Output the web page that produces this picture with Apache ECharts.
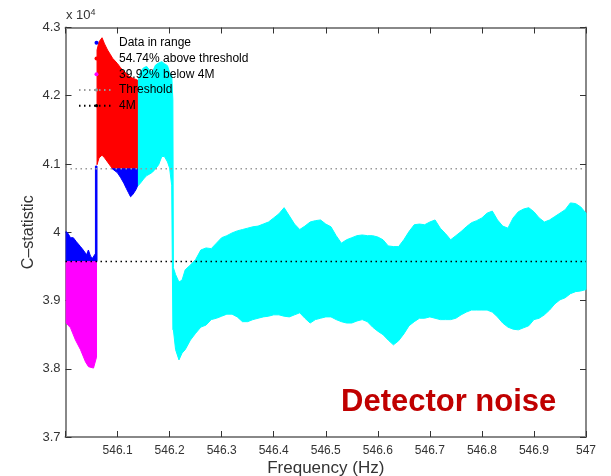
<!DOCTYPE html>
<html>
<head>
<meta charset="utf-8">
<script src="https://cdn.jsdelivr.net/npm/echarts@6/dist/echarts.min.js"></script>
<style>
  html, body { margin: 0; padding: 0; background: #fff; }
  #chart { width: 611px; height: 476px; }
</style>
</head>
<body>
<div id="chart"></div>
<script>
// y values are in units of 10^4

// thresholds
const thresholdLevel = 4.093
const fourMLevel = 3.957

// magenta: below 4M
const magentaFreq = [546.0013, 546.0096, 546.0192, 546.0288, 546.0385, 546.0442, 546.0538, 546.0596]
const magentaLow = [3.867, 3.860, 3.842, 3.828, 3.810, 3.803, 3.801, 3.817]
const magentaHigh = [3.957, 3.957, 3.957, 3.957, 3.957, 3.957, 3.957, 3.957]

// blue: data in range (left part, above 4M)
const blueLeftFreq = [546.0013, 546.005, 546.0096, 546.015, 546.021, 546.0288, 546.034, 546.0405, 546.044, 546.048, 546.052, 546.056, 546.0596]
const blueLeftLow = [3.957, 3.957, 3.957, 3.957, 3.957, 3.957, 3.957, 3.957, 3.957, 3.957, 3.957, 3.957, 3.957]
const blueLeftHigh = [4.001, 3.998, 3.992, 3.992, 3.986, 3.979, 3.974, 3.967, 3.974, 3.965, 3.962, 3.967, 3.971]

// blue: the jump
const blueJumpFreq = [546.0575, 546.0605]
const blueJumpLow = [3.957, 3.957]
const blueJumpHigh = [4.097, 4.097]

// blue: below threshold in the red part
const blueMidFreq = [546.090, 546.100, 546.106, 546.112, 546.117, 546.121, 546.125, 546.129, 546.135, 546.138]
const blueMidLow = [4.093, 4.087, 4.080, 4.072, 4.064, 4.058, 4.052, 4.055, 4.062, 4.067]
const blueMidHigh = [4.093, 4.093, 4.093, 4.093, 4.093, 4.093, 4.093, 4.093, 4.093, 4.093]

// red: above threshold
const redFreq = [546.0606, 546.0644, 546.0702, 546.075, 546.0808, 546.0865, 546.0904, 546.100, 546.1058, 546.1135, 546.1212, 546.1288, 546.138]
const redLow = [4.099, 4.109, 4.113, 4.109, 4.103, 4.097, 4.093, 4.093, 4.093, 4.093, 4.093, 4.093, 4.093]
const redHigh = [4.267, 4.279, 4.285, 4.276, 4.267, 4.260, 4.255, 4.247, 4.241, 4.235, 4.229, 4.226, 4.223]

// cyan: all data
const cyanFreq = [
  546.138, 546.144, 546.150, 546.156, 546.161, 546.167, 546.173, 546.179, 546.185, 546.190,
  546.196, 546.200, 546.204, 546.2063, 546.2073, 546.2115, 546.218, 546.224,
  546.23, 546.24, 546.25, 546.26, 546.27, 546.28, 546.29, 546.30, 546.31, 546.32,
  546.33, 546.34, 546.35, 546.36, 546.37, 546.38, 546.39, 546.40, 546.41, 546.42,
  546.43, 546.44, 546.45, 546.46, 546.47, 546.48, 546.49, 546.50, 546.51, 546.52,
  546.53, 546.54, 546.55, 546.56, 546.57, 546.58, 546.59, 546.60, 546.61, 546.62,
  546.63, 546.64, 546.65, 546.66, 546.67, 546.68, 546.69, 546.70, 546.71, 546.72,
  546.73, 546.74, 546.75, 546.76, 546.77, 546.78, 546.79, 546.80, 546.81, 546.82,
  546.83, 546.84, 546.85, 546.86, 546.87, 546.88, 546.89, 546.90, 546.91, 546.92,
  546.93, 546.94, 546.95, 546.96, 546.97, 546.98, 546.99, 547.00
]
const cyanHigh = [
  4.219, 4.235, 4.241, 4.243, 4.238, 4.235, 4.245, 4.248, 4.250, 4.247,
  4.244, 4.234, 4.231, 4.194, 3.948, 3.938, 3.927, 3.930,
  3.945, 3.952, 3.960, 3.974, 3.977, 3.976, 3.984, 3.992, 3.995, 3.999,
  4.002, 4.004, 4.006, 4.008, 4.009, 4.012, 4.015, 4.021, 4.027, 4.036,
  4.024, 4.012, 4.004, 4.009, 4.015, 4.017, 4.018, 4.012, 4.008, 3.995,
  3.984, 3.989, 3.992, 3.995, 3.996, 3.995, 3.995, 3.993, 3.989, 3.980,
  3.979, 3.979, 3.989, 4.001, 4.011, 4.012, 4.011, 4.015, 4.018, 4.006,
  3.998, 3.989, 3.995, 4.001, 4.008, 4.014, 4.017, 4.021, 4.028, 4.031,
  4.018, 4.009, 4.006, 4.021, 4.030, 4.034, 4.036, 4.030, 4.021, 4.015,
  4.018, 4.023, 4.028, 4.033, 4.043, 4.042, 4.037, 4.028
]
const cyanLow = [
  4.067, 4.072, 4.078, 4.083, 4.085, 4.088, 4.093, 4.099, 4.111, 4.111,
  4.103, 4.094, 4.069, 3.857, 3.857, 3.828, 3.813, 3.823,
  3.828, 3.842, 3.852, 3.861, 3.864, 3.872, 3.874, 3.877, 3.880, 3.880,
  3.876, 3.869, 3.869, 3.872, 3.874, 3.876, 3.877, 3.879, 3.879, 3.877,
  3.876, 3.879, 3.882, 3.874, 3.867, 3.872, 3.874, 3.876, 3.876, 3.872,
  3.869, 3.867, 3.867, 3.870, 3.872, 3.869, 3.861, 3.855, 3.850, 3.842,
  3.835, 3.841, 3.851, 3.863, 3.869, 3.874, 3.874, 3.876, 3.874, 3.872,
  3.872, 3.872, 3.874, 3.879, 3.883, 3.886, 3.886, 3.886, 3.886, 3.883,
  3.876, 3.867, 3.861, 3.858, 3.857, 3.860, 3.863, 3.872, 3.874, 3.879,
  3.886, 3.895, 3.901, 3.904, 3.910, 3.913, 3.914, 3.916
]

const legendNames = ['Data in range', '54.74% above threshold', '39.92% below 4M', 'Threshold', '4M']

const font = 'Liberation Sans, Arial, Helvetica, sans-serif'
const frameColor = '#888'
const tickColor = '#333'

/**
 * filled band between low and high, drawn as one polygon
 */
const band = (name, color, freq, low, high, z) => ({
  type: 'custom',
  name,
  z,
  silent: true,
  itemStyle: { color },
  data: freq.map((f, i) => [f, low[i], high[i]]),
  encode: { x: 0, y: [1, 2] },
  renderItem: (params, api) => {
    if (params.dataIndex !== 0) return
    const pts = []
    for (let i = 0; i < freq.length; i++) pts.push(api.coord([freq[i], high[i]]))
    for (let i = freq.length - 1; i >= 0; i--) pts.push(api.coord([freq[i], low[i]]))
    return {
      type: 'polygon',
      shape: { points: pts },
      style: { fill: color, stroke: color, lineWidth: 1 }
    }
  }
})

const hLine = (name, color, level) => ({
  type: 'line',
  name,
  z: 5,
  silent: true,
  symbol: 'none',
  showSymbol: false,
  color,
  lineStyle: { color, width: 1.5, type: [1.5, 3.5] },
  data: [[546, level], [547, level]]
})

const chart = echarts.init(document.getElementById('chart'))

const options = {
  backgroundColor: '#fff',
  animation: false,
  textStyle: { fontFamily: font },
  grid: { left: 65.5, right: 25, top: 27.5, bottom: 39, outerBoundsMode: 'none', containLabel: false },
  legend: {
    data: [
      { name: legendNames[0], icon: 'circle' },
      { name: legendNames[1], icon: 'circle' },
      { name: legendNames[2], icon: 'circle' },
      { name: legendNames[3] },
      { name: legendNames[4] }
    ],
    orient: 'vertical',
    left: 78,
    top: 35,
    padding: 0,
    itemWidth: 35,
    itemHeight: 4,
    itemGap: 0,
    selectedMode: false,
    textStyle: { fontSize: 12, color: '#000', fontFamily: font, lineHeight: 15.7 }
  },
  xAxis: [
    {
      type: 'value',
      position: 'bottom',
      min: 546,
      max: 547,
      interval: 0.1,
      name: 'Frequency (Hz)',
      nameLocation: 'middle',
      nameGap: 23,
      nameMoveOverlap: false,
      nameTextStyle: { fontSize: 17, color: '#333', fontFamily: font },
      axisLine: { show: true, lineStyle: { color: frameColor, width: 2 } },
      axisTick: { show: true, inside: true, length: 6, lineStyle: { color: tickColor } },
      axisLabel: {
        color: '#333',
        fontSize: 12,
        margin: 8,
        formatter: v => (Math.abs(v - 546) < 1e-6 ? '' : String(+v.toFixed(1)))
      },
      splitLine: { show: false }
    },
    {
      type: 'value',
      position: 'top',
      min: 546,
      max: 547,
      interval: 0.1,
      axisLine: { show: true, lineStyle: { color: frameColor, width: 2 } },
      axisTick: { show: true, inside: true, length: 6, lineStyle: { color: tickColor } },
      axisLabel: { show: false },
      splitLine: { show: false }
    }
  ],
  yAxis: [
    {
      type: 'value',
      position: 'left',
      min: 3.7,
      max: 4.3,
      interval: 0.1,
      name: 'C\u2013statistic',
      nameLocation: 'middle',
      nameGap: 29,
      nameMoveOverlap: false,
      nameTextStyle: { fontSize: 16, color: '#333', fontFamily: font },
      axisLine: { show: true, lineStyle: { color: frameColor, width: 2 } },
      axisTick: { show: true, inside: true, length: 6, lineStyle: { color: tickColor } },
      axisLabel: {
        color: '#333',
        fontSize: 13,
        margin: 5,
        formatter: v => String(+v.toFixed(1))
      },
      splitLine: { show: false }
    },
    {
      type: 'value',
      position: 'right',
      min: 3.7,
      max: 4.3,
      interval: 0.1,
      axisLine: { show: true, lineStyle: { color: frameColor, width: 2 } },
      axisTick: { show: true, inside: true, length: 6, lineStyle: { color: tickColor } },
      axisLabel: { show: false },
      splitLine: { show: false }
    }
  ],
  graphic: [
    {
      type: 'text',
      left: 66,
      top: 8,
      style: {
        text: 'x 10{sup|4}',
        fontSize: 13,
        fontFamily: font,
        fill: '#333',
        rich: { sup: { fontSize: 9, verticalAlign: 'top', padding: [0, 0, 6, 0], fill: '#333' } }
      }
    },
    {
      type: 'text',
      left: 341,
      top: 387,
      style: {
        text: 'Detector noise',
        fontSize: 31,
        fontWeight: 'bold',
        fontFamily: font,
        fill: '#c00000'
      }
    }
  ],
  series: [
    band('cyan', '#00ffff', cyanFreq, cyanLow, cyanHigh, 2),
    band(legendNames[1], '#ff0000', redFreq, redLow, redHigh, 3),
    band(legendNames[0], '#0000ff', blueLeftFreq, blueLeftLow, blueLeftHigh, 3),
    band(legendNames[0], '#0000ff', blueJumpFreq, blueJumpLow, blueJumpHigh, 3),
    band(legendNames[0], '#0000ff', blueMidFreq, blueMidLow, blueMidHigh, 3),
    band(legendNames[2], '#ff00ff', magentaFreq, magentaLow, magentaHigh, 3),
    hLine(legendNames[3], '#999999', thresholdLevel),
    hLine(legendNames[4], '#000000', fourMLevel)
  ]
}
chart.setOption(options)
</script>
</body>
</html>
